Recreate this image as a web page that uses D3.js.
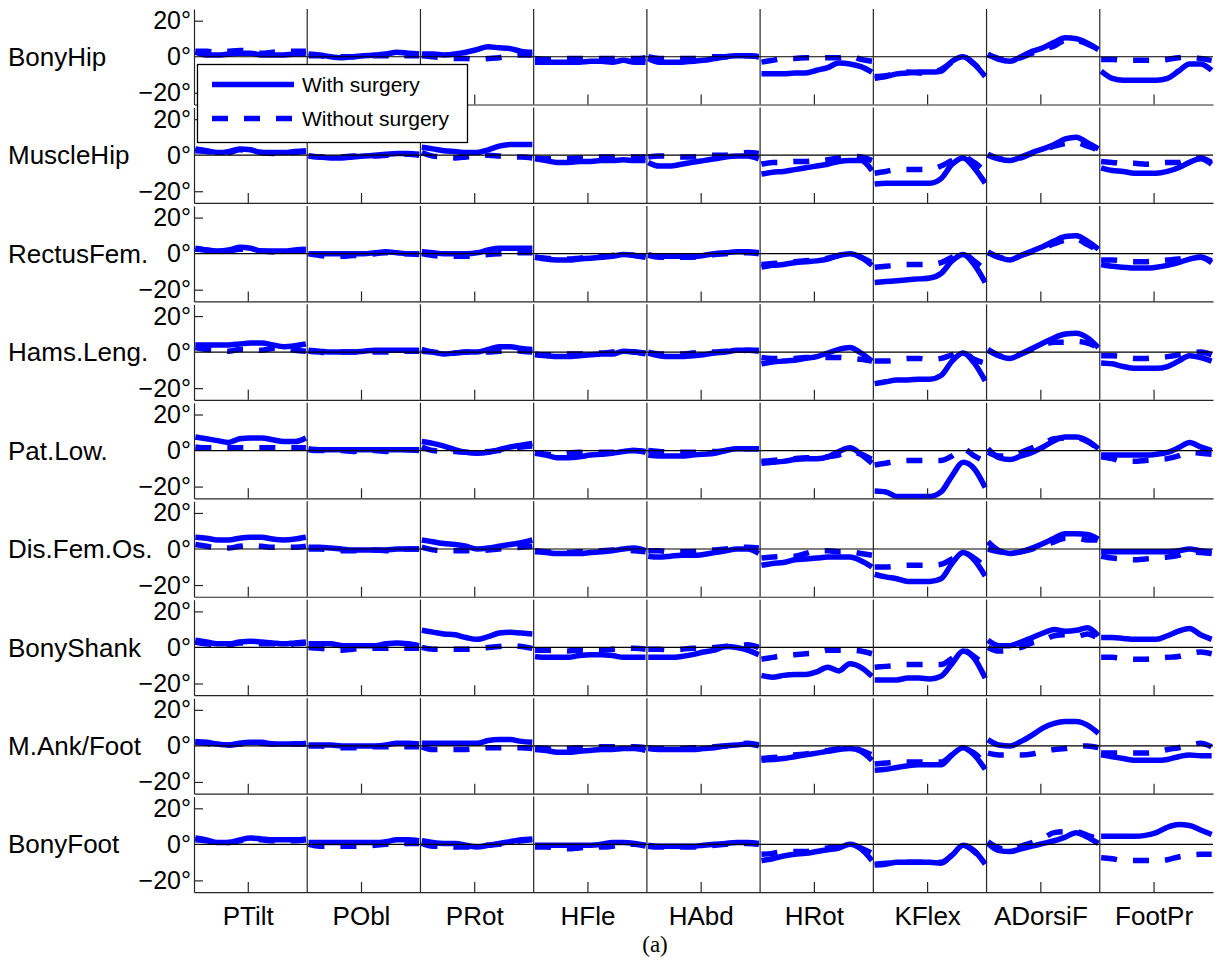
<!DOCTYPE html>
<html>
<head>
<meta charset="utf-8">
<script src="https://cdn.jsdelivr.net/npm/d3@7"></script>
<style>
  html, body { margin: 0; padding: 0; background: #fff; }
  svg { display: block; }
</style>
</head>
<body>
<svg id="chart" width="1215" height="970"></svg>
<script>
// ---------------- data ----------------
const rowLabels = ["BonyHip", "MuscleHip", "RectusFem.", "Hams.Leng.", "Pat.Low.", "Dis.Fem.Os.", "BonyShank", "M.Ank/Foot", "BonyFoot"];
const colLabels = ["PTilt", "PObl", "PRot", "HFle", "HAbd", "HRot", "KFlex", "ADorsiF", "FootPr"];
const yTickValues = [-20, 0, 20];
const seriesNames = ["With surgery", "Without surgery"];

// each row: 9 columns x 11 samples (degrees) across the gait cycle
const bonyHipWith = [
  [2.5,1,1,1.5,2,2,1,1,1,1.5,1.5],
  [1.5,1,0,-0.5,0,0.5,1,1.5,2.5,2,1.5],
  [1.5,1.5,1,1.5,2.5,4,5.5,5,4.5,3,2.5],
  [-3,-3,-3,-3,-3,-2.5,-2.5,-3,-2,-3,-3],
  [-1,-3,-3,-3,-2.5,-2,-1,0,0.5,0.5,0],
  [-9.5,-9.5,-9.5,-9,-9,-7.5,-6,-3.5,-4,-5.5,-8.5],
  [-12,-11,-9.5,-9,-8.5,-8.5,-8,-2.5,0,-4,-11],
  [1.5,-1.5,-2.5,0,3,5,8,10.5,10,7.5,4],
  [-8,-12,-13,-13,-13,-13,-12,-8,-4,-4,-7.5]
];
const bonyHipWithout = [
  [3,3,2.5,3,3.5,3,2,2.5,3,3,3],
  [0.5,0.5,0,0,0,0.5,0.5,0.5,1,0.5,0.5],
  [0.5,0,-0.5,-1,-1,-1.5,-1,-0.5,0.5,1,1],
  [-1,-1.5,-1.5,-1,-1,-1,-1,-1,0,-1,-0.5],
  [0,-1,-1,-1,-1,0,0,0,0.5,0.5,0],
  [-3,-2,-1,-1,-0.5,-0.5,-0.5,-0.5,0.5,-1.5,-2.5],
  [-11,-10.5,-9,-8.5,-9,-9,-7,-3,0,-4,-10],
  [1,-1,-2,-0.5,2,4,6,9,9,7,4.5],
  [-1.5,-1.5,-2,-2,-2,-2,-1.5,-0.5,0,-1,-2]
];
const muscleHipWith = [
  [3.5,2.5,1.5,2,3.5,3,1.5,1.5,1.5,2,2.5],
  [-0.5,-1,-1.5,-1.5,-1,-0.5,0,0.5,1,1,0.5],
  [4.5,3.5,2.5,2,1.5,1.5,3,5,6,6,6],
  [-2,-3,-4,-4,-3.5,-3.5,-3,-3,-2.5,-3,-3],
  [-4,-6,-6,-5,-4,-3,-2,-1,-0.5,-0.5,-2],
  [-10.5,-9.5,-9,-8,-7,-6,-5,-3.5,-3,-3,-8.5],
  [-16,-15.5,-15.5,-15.5,-15.5,-15.5,-13,-5,-1.5,-7,-15.5],
  [0.5,-2,-3,-1,1.5,3.5,6,9,10,7,3.5],
  [-7,-8.5,-9,-10,-10,-10,-9,-7,-4,-2,-5]
];
const muscleHipWithout = [
  [2.5,2,1.5,1.5,3,2.5,1.5,1,1,1.5,2],
  [-0.5,-1,-1,-1,-0.5,-0.5,-0.5,0,0.5,0.5,0],
  [1.5,-0.5,-1,-1.5,-1,-0.5,0,-0.5,-1,-1,-1.5],
  [-1.5,-2,-2,-2,-1.5,-1.5,-1,-1,-0.5,-1,-1],
  [-1,-0.5,-0.5,-1,-1,-0.5,0,0,1,1.5,1],
  [-5,-4,-4,-3.5,-3.5,-3,-2.5,-1.5,-0.5,-1,-3],
  [-10,-9,-8,-8,-8,-8,-6,-3,-1,-4,-9],
  [0,-2,-2.5,-1.5,1,3,5,6.5,7,5,3],
  [-3.5,-4,-4.5,-4.5,-5,-4.5,-4,-4,-2,-1.5,-4]
];
const rectusFemWith = [
  [3,2,1.5,2,3.5,3,1.5,1.5,1.5,2,2.5],
  [0,0,0,0,0,0,0.5,1,0.5,0,0],
  [1,0.5,0,0,0,0.5,2,3,3,3,3],
  [-2,-3,-3.5,-3.5,-3,-2.5,-2,-1.5,-0.5,-1,-2],
  [-0.5,-1.5,-1.5,-1.5,-1.5,-1,0,0.5,1,1,0.5],
  [-7.5,-6.5,-6,-5,-4.5,-4,-3,-1,0,-2,-6.5],
  [-16,-15.5,-15,-14.5,-14,-13.5,-11,-4,-0.5,-6,-16],
  [1,-2,-3.5,-1,1.5,4,7,9.5,10,7,2.5],
  [-6,-7,-7.5,-8,-8,-7.5,-6.5,-5,-3,-2,-5]
];
const rectusFemWithout = [
  [2.5,2,1.5,1.5,2.5,2,1.5,1,1,1.5,2],
  [0,-1,-1.5,-1.5,-1,-1,0,0.5,0,0,-0.5],
  [0,-1,-1.5,-1.5,-1.5,-1,-0.5,0,0.5,0.5,0.5],
  [-2,-2.5,-3,-3,-2.5,-2,-1.5,-1,0,-1,-1.5],
  [-1,-2,-2,-2,-2,-1.5,-0.5,0,0.5,0.5,0],
  [-6,-5.5,-5,-4.5,-4,-3.5,-2.5,-1,0,-2,-5],
  [-7.5,-7,-6.5,-6,-6,-6,-5,-2,0,-4,-9],
  [0.5,-2,-3,-1,1,3,5.5,7.5,8,5,2],
  [-3.5,-3.5,-4,-4.5,-4.5,-4,-3.5,-3,-2,-2,-4]
];
const hamsLengWith = [
  [4,4,4,4,4.5,5,5,4,3,3.5,4.5],
  [1,0.5,0,0,0,0.5,1,1,1,1,1],
  [1.5,0,-1,-0.5,0,0,1.5,3,3,2,1.5],
  [-1.5,-2,-2.5,-2.5,-2,-1.5,-1,-1,0.5,0,-1],
  [-0.5,-2,-2.5,-2.5,-2,-1.5,-0.5,0,1,1,1],
  [-6.5,-5.5,-5,-4.5,-3.5,-2.5,-0.5,1.5,2.5,-0.5,-5],
  [-17.5,-16.5,-15.5,-15.5,-15,-15,-13,-5,-0.5,-6,-16],
  [1.5,-2,-3.5,-1,2,5,8,10,10.5,8,2.5],
  [-6,-6.5,-8,-9,-9,-9,-8,-5,-2,-3,-5]
];
const hamsLengWithout = [
  [2.5,1.5,1,0.5,1.5,1.5,1,2,2,1,0.5],
  [0.5,0,-0.5,0,0,0,0,0,0.5,0.5,0.5],
  [0.5,0,-0.5,-0.5,0,0,0,0.5,1,0.5,0],
  [-1,-1.5,-1.5,-1,-1,-0.5,-0.5,0,0.5,0,-0.5],
  [0,-1,-1,-1,-0.5,0,0,0.5,0.5,1,0.5],
  [-3,-3.5,-3.5,-3.5,-3,-3,-3,-3,-3.5,-4,-5],
  [-5,-5,-4.5,-3.5,-3.5,-4,-3.5,-1.5,0,-4,-6],
  [1,-2,-3,-1,1.5,4,5.5,5.5,6,5,2.5],
  [-2,-2,-2.5,-3.5,-3.5,-3,-2.5,-1.5,-0.5,0,-1.5]
];
const patLowWith = [
  [7.5,6.5,5.5,4.5,6.5,7,7,6,5,5,7],
  [1,0.5,0.5,0.5,0.5,0.5,0.5,0.5,0.5,0.5,0.5],
  [5,4,2.5,0.5,-1,-1.5,-1,0.5,2,3,4],
  [-1.5,-2.5,-4,-4,-3.5,-2.5,-2,-1.5,-0.5,0,-1],
  [-2.5,-3,-3,-3,-2.5,-2,-1.5,0,1,1,1],
  [-7,-6.5,-6,-5,-4.5,-4.5,-3.5,-0.5,1.5,-2,-7],
  [-22.5,-23,-25.5,-25.5,-25.5,-25.5,-23,-14,-6.5,-10,-20.5],
  [1,-4,-5,-3,-1,2,5.5,7.5,7.5,5.5,1],
  [-2.5,-2.5,-2.5,-2.5,-2.5,-2,-1,1.5,4.5,2,0]
];
const patLowWithout = [
  [2,1.5,1.5,1.5,1.5,1.5,1.5,1.5,1.5,1.5,1.5],
  [0.5,0,0,0,-0.5,0,0,-0.5,0,0.5,0],
  [2,0,-0.5,-0.5,-1,-1,-0.5,0,1,2,2.5],
  [-1,-2,-2.5,-1.5,-1,-1.5,-1,-1,0,0,-0.5],
  [0,-0.5,-1,-1,-1,-0.5,-0.5,0,0.5,1,1],
  [-6,-5.5,-5,-4.5,-4,-4,-3.5,-2.5,-1,-2,-5],
  [-8,-7,-6,-5.5,-5.5,-5.5,-5.5,-3,1,-3,-6],
  [-1,-3,-3,-1,1.5,4,6.5,7,7,5,1],
  [-3.5,-4.5,-6,-6,-5.5,-5,-4.5,-3,-1,-1.5,-2]
];
const disFemOsWith = [
  [6.5,6,5,5,6,6.5,6.5,5.5,5,5.5,6.5],
  [1,1,0.5,0,-0.5,-0.5,-0.5,-0.5,0,0,0],
  [5,4,3,2.5,1.5,0,0.5,1.5,2.5,3.5,5],
  [-1.5,-2,-2.5,-2.5,-2.5,-2,-1.5,-1,0,0.5,-1],
  [-4,-4.5,-4,-3.5,-3.5,-3,-2,-1,0,0,-2.5],
  [-9,-8,-7.5,-6,-5.5,-5,-4.5,-4.5,-4.5,-6.5,-10],
  [-14,-15.5,-16.5,-18,-18,-18,-16.5,-8,-2,-6,-15],
  [4,-1,-2.5,-1.5,0.5,3,6,8.5,8.5,8,5.5],
  [-1.5,-1.5,-1.5,-1.5,-1.5,-1.5,-1.5,-1,0,-1,-1.5]
];
const disFemOsWithout = [
  [2.5,1.5,0.5,0.5,1.5,2,1.5,1,1,1,1.5],
  [0,0,-0.5,-1,-1,-0.5,-0.5,-1,-0.5,0,0],
  [1,-0.5,-1,-1,-1,-1,-0.5,0,0.5,1,1.5],
  [-1,-1.5,-2,-2,-1.5,-1.5,-1,-0.5,-0.5,-1,-1.5],
  [-1,-1,-1.5,-1.5,-1.5,-1,-0.5,0,0.5,1,0.5],
  [-5,-4.5,-4,-4,-2.5,-1,-1,-1.5,-1.5,-2.5,-3.5],
  [-10,-10,-9.5,-9,-9,-9,-8.5,-5.5,-2,-5,-10],
  [0,-1.5,-2,-1.5,0,2,4,6,6,5,5],
  [-4,-5,-5.5,-6,-5.5,-5,-4.5,-3.5,-1.5,-2,-2.5]
];
const bonyShankWith = [
  [4,3,2,2,3,3.5,3,2.5,2,2.5,3],
  [2,2,2,1,1,1,1,2,2.5,2,1],
  [9.5,8.5,7.5,7,5.5,4.5,6,8,8.5,8,7.5],
  [-5,-5.5,-5.5,-5.5,-4.5,-4,-4,-4.5,-5.5,-5.5,-5.5],
  [-5.5,-5.5,-5.5,-5,-4,-2.5,-1.5,0.5,0,-1.5,-4],
  [-15.5,-16.5,-15.5,-15,-15,-13.5,-11,-13,-9,-11,-16],
  [-18,-18,-18,-17,-17,-17.5,-16,-9,-2,-6,-17],
  [4,1,1,3,5.5,8,10,9,9.5,11,6.5],
  [5.5,5.5,5,4.5,4.5,4.5,6.5,9,10.5,7,4.5]
];
const bonyShankWithout = [
  [3,2,1.5,1.5,2.5,2.5,2,2,1.5,2,2.5],
  [0,-0.5,-1,-1.5,-1,-0.5,-0.5,-0.5,0,-0.5,-0.5],
  [0,-1,-1,-1,-1,-0.5,0,0.5,1,0.5,-0.5],
  [-1.5,-1.5,-1.5,-2,-1.5,-1.5,-1.5,-1,-0.5,-0.5,-1],
  [-1,-1,-1.5,-1,-0.5,-0.5,0,0.5,1,1.5,0],
  [-6.5,-5.5,-4.5,-4,-3.5,-3,-1.5,-1.5,-1.5,-2,-3.5],
  [-11,-10.5,-10,-9.5,-9.5,-9.5,-9.5,-6,-1.5,-5,-10],
  [0,-2,-1.5,0,2.5,4,6.5,7,6,7.5,5],
  [-5.5,-5.5,-6,-6.5,-6.5,-6,-5.5,-5,-3.5,-2.5,-3.5]
];
const mAnkFootWith = [
  [2.5,2,1,0.5,1.5,2,2,1,1,1,1.5],
  [0.5,0.5,0.5,0,0,0,0,0.5,1.5,1.5,1],
  [1.5,1.5,1.5,1.5,1.5,1.5,3,3.5,3.5,2.5,2],
  [-2,-2.5,-3.5,-3.5,-3,-2.5,-2,-2,-1.5,-1.5,-2.5],
  [-1.5,-2,-2,-2,-2,-1.5,-1,0,0.5,1,0],
  [-8,-7.5,-7,-6,-5,-4,-3,-2,-1.5,-3,-8],
  [-13.5,-13,-12,-11,-10.5,-10.5,-10.5,-5,-1,-5,-13],
  [3.5,0.5,0,2.5,6,10,12.5,13.5,13.5,11.5,7],
  [-5,-6,-7,-8,-8,-8,-7.5,-6,-5,-5.5,-5.5]
];
const mAnkFootWithout = [
  [2,1.5,0.5,0.5,1,1.5,1.5,1,1,1,1],
  [0,0,-0.5,-1,-1,-0.5,-0.5,-0.5,0,-0.5,-0.5],
  [-0.5,-2,-2,-2,-2,-1.5,-1,-1,-1,-1,-1.5],
  [-1,-1.5,-2,-1.5,-1,-1,-0.5,-0.5,-0.5,-0.5,-1],
  [-1,-1.5,-1.5,-1.5,-1,-1,-0.5,0,0.5,1.5,0.5],
  [-7,-6.5,-6,-5,-4.5,-3.5,-2.5,-1.5,-0.5,-2.5,-5],
  [-10,-9.5,-9,-9,-9,-9,-9,-5,-1.5,-4,-10],
  [-4,-5,-5,-5,-4.5,-3,-2,-1.5,-0.5,0,-1],
  [-4,-4,-4,-4,-4,-3.5,-2,-1,0.5,1.5,-0.5]
];
const bonyFootWith = [
  [3.5,2.5,1,1,2.5,3.5,3,2.5,2.5,2.5,3],
  [1,1,1,1,1,1,1,1.5,2.5,2.5,2],
  [2,1,0.5,0.5,-0.5,-1.5,-0.5,0.5,1.5,2.5,3],
  [-0.5,-0.5,-0.5,-0.5,-0.5,-0.5,0,1,1,0.5,-0.5],
  [-0.5,-1,-1,-1,-1,-0.5,0,0.5,1,1,0.5],
  [-9,-8,-6.5,-5.5,-5,-4,-3,-2,0,-2.5,-9],
  [-11.5,-11,-10,-10,-10,-10,-10.5,-6,-0.5,-3.5,-11],
  [0.5,-3.5,-4,-2.5,-1,0.5,2,4,6.5,4,0.5],
  [4.5,4.5,4.5,4.5,5,6.5,9.5,11,10.5,8,5.5]
];
const bonyFootWithout = [
  [2.5,2,1,1,2,3,2.5,2,2,2,2.5],
  [0,-1,-1,-1,-1,-1,-0.5,0,0.5,0.5,0.5],
  [0.5,-1,-1,-1.5,-1.5,-1,-0.5,0,1,2,2.5],
  [-1.5,-1.5,-2,-2.5,-2,-1.5,-1.5,-1,0,0,-1],
  [-1,-1.5,-1.5,-1.5,-1.5,-1,-0.5,0,0.5,0.5,0],
  [-5.5,-5,-4,-4,-4,-3,-2,-1.5,0,-2,-5],
  [-11,-10.5,-10,-10,-10,-10,-10,-6,-0.5,-4,-10.5],
  [1.5,-2,-3,-1,1,3.5,6.5,7,7,5,3],
  [-7.5,-8,-9,-9,-9,-9,-8.5,-7,-6,-5.5,-5.5]
];

const withRows = [bonyHipWith, muscleHipWith, rectusFemWith, hamsLengWith, patLowWith, disFemOsWith, bonyShankWith, mAnkFootWith, bonyFootWith];
const withoutRows = [bonyHipWithout, muscleHipWithout, rectusFemWithout, hamsLengWithout, patLowWithout, disFemOsWithout, bonyShankWithout, mAnkFootWithout, bonyFootWithout];

// ---------------- layout ----------------
const svg = d3.select("#chart");
const plotLeft = 194, plotRight = 1213;
const rowTop0 = 9, rowStep = 98.45, rowH = 95.5;
const nCols = colLabels.length;
const blue = "#0000ff";
const axisColor = "#262626";
const fontSans = '"Liberation Sans", Arial, sans-serif';
const fontSerif = '"Liberation Serif", "DejaVu Serif", serif';

const x = d3.scaleLinear().domain([0, nCols]).range([plotLeft, plotRight]);
const tickPos = d3.range(nCols).map(i => i + 0.475);

const dataLayer = svg.append("g");
const axisLayer = svg.append("g");

rowLabels.forEach((label, r) => {
  const top = rowTop0 + r * rowStep;
  const y = d3.scaleLinear().domain([-26.5, 26.5]).range([top + rowH, top]);
  const g = dataLayer.append("g");

  [withRows[r], withoutRows[r]].forEach((rows, s) => {
    rows.forEach((vals, c) => {
      const line = d3.line()
        .x((d, i) => x(c + 0.012 + 0.976 * i / (vals.length - 1)))
        .y(d => y(d))
        .curve(d3.curveMonotoneX);
      g.append("path")
        .attr("d", line(vals))
        .attr("fill", "none")
        .attr("stroke", blue)
        .attr("stroke-width", 5.5)
        .attr("stroke-linejoin", "round")
        .attr("stroke-dasharray", s === 1 ? "16,16" : null);
    });
  });

  const ag = axisLayer.append("g");
  // zero line
  ag.append("line")
    .attr("x1", x(0)).attr("x2", x(nCols))
    .attr("y1", y(0)).attr("y2", y(0))
    .attr("stroke", "#000").attr("stroke-width", 1.2);
  // column dividers
  ag.selectAll("line.div").data(d3.range(1, nCols)).join("line")
    .attr("x1", d => x(d)).attr("x2", d => x(d))
    .attr("y1", top).attr("y2", top + rowH)
    .attr("stroke", axisColor).attr("stroke-width", 1.2);

  // left axis
  const yAxis = d3.axisLeft(y).tickValues(yTickValues)
    .tickSize(-9).tickSizeOuter(0).tickPadding(3)
    .tickFormat(d => d3.format("d")(d) + "°");
  const ya = ag.append("g").attr("transform", `translate(${plotLeft},0)`).call(yAxis);
  ya.select(".domain").attr("stroke", axisColor).attr("stroke-width", 1.2);
  ya.selectAll(".tick line").attr("stroke", axisColor).attr("stroke-width", 1.2)
    .attr("opacity", d => d === 0 ? 0 : 1);
  ya.selectAll(".tick text").attr("font-family", fontSans).attr("font-size", 25).attr("fill", "#000");

  // bottom axis
  const xAxis = d3.axisBottom(x).tickValues(tickPos)
    .tickSize(-10).tickSizeOuter(0).tickPadding(14)
    .tickFormat((d, i) => r === rowLabels.length - 1 ? colLabels[i] : "");
  const xa = ag.append("g").attr("transform", `translate(0,${top + rowH})`).call(xAxis);
  xa.select(".domain").attr("stroke", axisColor).attr("stroke-width", 1.2);
  xa.selectAll(".tick line").attr("stroke", axisColor).attr("stroke-width", 1.2);
  xa.selectAll(".tick text").attr("font-family", fontSans).attr("font-size", 26).attr("fill", "#000");

  // row label
  ag.append("text")
    .attr("x", 8).attr("y", y(0)).attr("dy", "0.35em")
    .attr("font-family", fontSans)
    .attr("font-size", 26)
    .attr("fill", "#000")
    .text(label);
});

// caption
svg.append("text")
  .attr("x", 655).attr("y", 952)
  .attr("text-anchor", "middle")
  .attr("font-family", fontSerif)
  .attr("font-size", 23)
  .attr("fill", "#000")
  .text("(a)");

// legend
const lg = svg.append("g");
lg.append("rect")
  .attr("x", 197.5).attr("y", 64.5).attr("width", 270).attr("height", 78)
  .attr("fill", "#fff").attr("stroke", "#000").attr("stroke-width", 1.3);
const legendY = [84.5, 118.5];
seriesNames.forEach((name, i) => {
  lg.append("line")
    .attr("x1", 212).attr("x2", 294)
    .attr("y1", legendY[i]).attr("y2", legendY[i])
    .attr("stroke", blue).attr("stroke-width", 5.5)
    .attr("stroke-dasharray", i === 1 ? "16,16" : null);
  lg.append("text")
    .attr("x", 302).attr("y", legendY[i]).attr("dy", "0.36em")
    .attr("font-family", fontSans)
    .attr("font-size", 21)
    .attr("fill", "#000")
    .text(name);
});
</script>
</body>
</html>
